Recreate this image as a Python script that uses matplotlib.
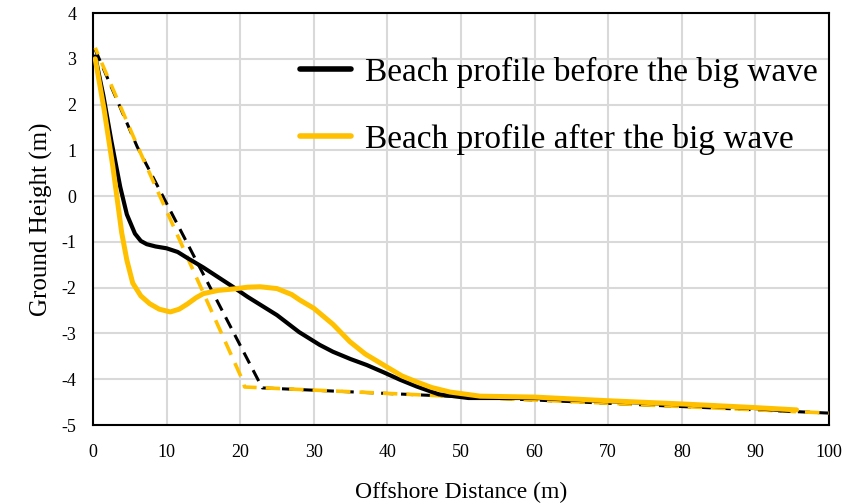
import matplotlib.pyplot as plt

plt.rcParams['font.family'] = ['Liberation Serif', 'DejaVu Serif']
plt.rcParams['axes.unicode_minus'] = False

# Measured beach profile before the big wave
before_x = [0.3, 1.4, 2.5, 3.7, 4.6, 5.7, 6.5, 7.3, 8.5, 10, 11.5, 12.8, 15, 17, 19,
            21, 23, 25, 28, 30.8, 32.6, 35, 37.2, 39.5, 41.7, 44, 47, 51, 60, 70, 80,
            90, 94.6]
before_y = [3.05, 2.2, 1.2, 0.2, -0.4, -0.82, -0.98, -1.05, -1.1, -1.14, -1.22, -1.35,
            -1.56, -1.77, -1.98, -2.2, -2.4, -2.6, -2.97, -3.25, -3.4, -3.56, -3.69,
            -3.85, -4.01, -4.16, -4.33, -4.41, -4.41, -4.48, -4.55, -4.63, -4.69]

# Measured beach profile after the big wave
after_x = [0.3, 1.5, 2.7, 3.9, 4.6, 5.4, 6.5, 7.7, 9, 10.5, 11.7, 12.8, 14, 15, 17,
           19, 21, 22.7, 25, 27, 28.1, 30, 32.6, 34.9, 37, 39.9, 42, 44, 46, 48.5,
           52.6, 60, 70, 80, 90, 95.6]
after_y = [3.0, 1.9, 0.64, -0.8, -1.4, -1.9, -2.18, -2.35, -2.47, -2.53, -2.47, -2.36,
           -2.22, -2.13, -2.06, -2.03, -1.99, -1.98, -2.02, -2.15, -2.27, -2.45, -2.8,
           -3.18, -3.45, -3.73, -3.93, -4.06, -4.18, -4.28, -4.37, -4.39, -4.47,
           -4.54, -4.62, -4.67]

# Idealised (linear) profiles
before_lin_x = [0.3, 6.0, 23.0, 100]
before_lin_y = [3.2, 1.08, -4.19, -4.74]
after_lin_x = [0.3, 6.1, 20.4, 20.6, 100]
after_lin_y = [3.24, 1.07, -4.05, -4.17, -4.74]

black = '#000000'
gold = '#FFC000'

fig = plt.figure(figsize=(8.47, 5.04), dpi=100)
ax = fig.add_axes([93 / 847, 1 - 425 / 504, (829 - 93) / 847, (425 - 13) / 504])

ax.plot(before_lin_x, before_lin_y, color=black, lw=2.2, ls=(0, (4, 2.5)), zorder=3)
ax.plot(after_lin_x, after_lin_y, color=gold, lw=2.6, ls=(2, (4, 2.5)), zorder=3)
ax.plot(before_x, before_y, color=black, lw=3.0, solid_joinstyle='round',
        solid_capstyle='round', zorder=4, label='Beach profile before the big wave')
ax.plot(after_x, after_y, color=gold, lw=3.6, solid_joinstyle='round',
        solid_capstyle='round', zorder=5, label='Beach profile after the big wave')

ax.set_xlim(0, 100)
ax.set_ylim(-5, 4)
ax.set_xticks(range(0, 101, 10))
ax.set_yticks(range(-5, 5))
ax.grid(True, color='#d9d9d9', lw=1.5)
ax.set_axisbelow(True)
ax.tick_params(length=0, labelsize=13, pad=14)
ax.tick_params(axis='y', pad=12)
for s in ax.spines.values():
    s.set_linewidth(1.5)
    s.set_color('black')

ax.set_xlabel('Offshore Distance (m)', fontsize=17, labelpad=15)
ax.set_ylabel('Ground Height (m)', fontsize=18, labelpad=6)

leg = ax.legend(loc='upper left', bbox_to_anchor=(0.281, 0.893), frameon=False,
                fontsize=24, handlelength=1.55, labelspacing=1.07, handletextpad=0.4,
                borderpad=0, borderaxespad=0)
for h in leg.get_lines():
    h.set_linewidth(4)

fig.savefig('out.png', dpi=100)
